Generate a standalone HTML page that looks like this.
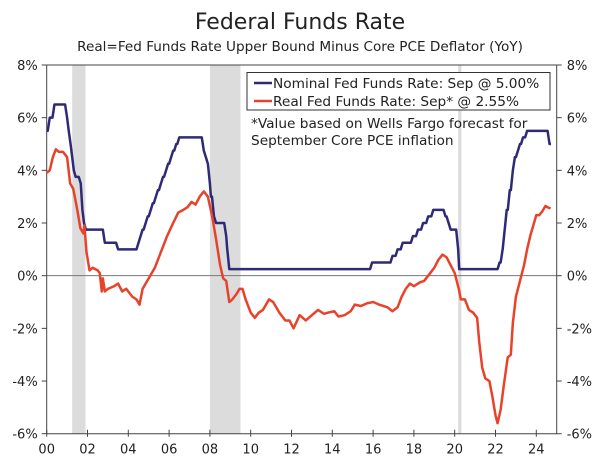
<!DOCTYPE html>
<html><head><meta charset="utf-8"><style>
body{margin:0;background:#fff;width:600px;height:461px;overflow:hidden}
svg text{font-family:"DejaVu Sans","Liberation Sans",sans-serif;fill:#222}
</style></head><body>
<svg id="chart" width="600" height="461" viewBox="0 0 600 461">
<text x="300" y="29" text-anchor="middle" font-size="22">Federal Funds Rate</text>
<text x="300" y="51" text-anchor="middle" font-size="13.6">Real=Fed Funds Rate Upper Bound Minus Core PCE Deflator (YoY)</text>
<g id="rec"></g><g id="axes"></g><g id="series"></g>
<g>
<rect x="247" y="72.5" width="303" height="37.5" fill="#fff" stroke="#333" stroke-width="1"/>
<line x1="254" y1="83" x2="272" y2="83" stroke="#2e2a78" stroke-width="2.5"/>
<text x="273" y="88" font-size="13.7">Nominal Fed Funds Rate: Sep @ 5.00%</text>
<line x1="254" y1="101" x2="272" y2="101" stroke="#e8432a" stroke-width="2.5"/>
<text x="273" y="106" font-size="13.7">Real Fed Funds Rate: Sep* @ 2.55%</text>
</g>
<text x="251" y="128" font-size="13.7">*Value based on Wells Fargo forecast for</text>
<text x="251" y="145" font-size="13.7">September Core PCE inflation</text>
</svg>
<script>
const yTicks=[8,6,4,2,0,-2,-4,-6];
const xTickYears=[2000,2002,2004,2006,2008,2010,2012,2014,2016,2018,2020,2022,2024];
const xTickLabels=["00","02","04","06","08","10","12","14","16","18","20","22","24"];
const recStart=[2001.25,2008.0,2020.17];
const recEnd=[2001.9,2009.5,2020.33];
const nomDates=[2000.0,2000.15,2000.38,2001.0,2001.08,2001.17,2001.25,2001.33,2001.42,2001.5,2001.67,2001.75,2001.83,2001.92,2002.85,2003.5,2004.5,2004.6,2004.7,2004.85,2004.95,2005.1,2005.2,2005.35,2005.45,2005.6,2005.7,2005.85,2005.95,2006.1,2006.2,2006.35,2006.5,2007.7,2007.8,2007.9,2008.0,2008.05,2008.2,2008.3,2008.8,2008.85,2008.95,2015.95,2016.95,2017.2,2017.45,2017.95,2018.2,2018.45,2018.7,2018.95,2019.55,2019.7,2019.8,2020.17,2020.22,2022.2,2022.35,2022.45,2022.55,2022.7,2022.85,2022.95,2023.1,2023.2,2023.35,2023.55,2024.65];
const nomValues=[5.5,6.0,6.5,6.0,5.5,5.0,4.5,4.0,3.75,3.75,3.5,2.5,2.0,1.75,1.25,1.0,1.25,1.5,1.75,2.0,2.25,2.5,2.75,3.0,3.25,3.5,3.75,4.0,4.25,4.5,4.75,5.0,5.25,4.75,4.5,4.25,3.5,3.0,2.25,2.0,1.5,1.0,0.25,0.5,0.75,1.0,1.25,1.5,1.75,2.0,2.25,2.5,2.25,2.0,1.75,1.0,0.25,0.5,1.0,1.75,2.5,3.25,4.0,4.5,4.75,5.0,5.25,5.5,5.0];
const realDates=[2000.0,2000.15,2000.3,2000.45,2000.6,2000.8,2001.0,2001.15,2001.3,2001.5,2001.65,2001.8,2001.85,2001.95,2002.1,2002.25,2002.5,2002.6,2002.7,2002.75,2002.85,2003.0,2003.3,2003.5,2003.7,2003.9,2004.2,2004.4,2004.55,2004.7,2005.0,2005.3,2005.6,2005.9,2006.2,2006.45,2006.7,2006.9,2007.1,2007.3,2007.5,2007.7,2007.9,2008.1,2008.3,2008.5,2008.65,2008.8,2008.95,2009.1,2009.3,2009.45,2009.6,2009.75,2010.0,2010.2,2010.4,2010.6,2010.9,2011.1,2011.4,2011.7,2011.9,2012.1,2012.4,2012.7,2013.0,2013.3,2013.6,2013.8,2014.1,2014.3,2014.6,2014.9,2015.1,2015.4,2015.7,2016.0,2016.3,2016.7,2016.95,2017.2,2017.4,2017.6,2017.8,2018.0,2018.3,2018.5,2018.8,2019.0,2019.2,2019.4,2019.6,2019.8,2020.0,2020.2,2020.3,2020.5,2020.7,2020.9,2021.1,2021.2,2021.35,2021.5,2021.7,2021.85,2022.0,2022.1,2022.25,2022.4,2022.6,2022.75,2022.85,2023.0,2023.2,2023.4,2023.55,2023.7,2023.85,2024.0,2024.15,2024.3,2024.45,2024.55,2024.7];
const realValues=[3.9,4.0,4.5,4.8,4.7,4.7,4.5,3.5,3.3,2.5,1.8,1.6,1.9,0.9,0.2,0.3,0.2,0.1,-0.6,-0.1,-0.6,-0.5,-0.4,-0.3,-0.6,-0.5,-0.8,-0.9,-1.1,-0.5,-0.1,0.3,0.9,1.5,2.0,2.4,2.5,2.6,2.8,2.7,3.0,3.2,3.0,2.3,1.4,0.4,-0.1,-0.2,-1.0,-0.9,-0.7,-0.5,-0.5,-0.9,-1.4,-1.6,-1.4,-1.3,-0.9,-1.0,-1.4,-1.7,-1.7,-2.0,-1.5,-1.7,-1.5,-1.3,-1.45,-1.4,-1.35,-1.55,-1.5,-1.35,-1.1,-1.15,-1.05,-1.0,-1.1,-1.2,-1.35,-1.2,-0.8,-0.5,-0.3,-0.4,-0.25,-0.2,0.1,0.3,0.6,0.8,0.7,0.4,0.1,-0.5,-0.9,-0.9,-1.3,-1.4,-1.6,-2.5,-3.5,-3.9,-4.0,-4.6,-5.3,-5.6,-5.1,-4.2,-3.1,-3.0,-1.8,-0.8,-0.2,0.4,1.0,1.5,1.9,2.3,2.3,2.45,2.65,2.6,2.55];

const NS="http://www.w3.org/2000/svg";
const L=46.7,R=556.7,T=65,B=433.7;
const xS=y=>L+(y-2000)/25*(R-L);
const yS=v=>T+(8-v)/14*(B-T);
function mk(tag,attrs,parent){const e=document.createElementNS(NS,tag);for(const k in attrs)e.setAttribute(k,attrs[k]);parent.appendChild(e);return e;}
const rec=document.getElementById('rec'),ax=document.getElementById('axes'),se=document.getElementById('series');
recStart.forEach((s,i)=>{const r=mk('rect',{x:xS(s),y:T,width:xS(recEnd[i])-xS(s),height:B-T,fill:'#dcdcdc'},rec);

});
const z=mk('line',{x1:L,x2:R,y1:yS(0),y2:yS(0),stroke:'#777','stroke-width':1},ax);


const frame=mk('path',{d:`M${L},${T}H${R}M${L},${T}V${B}H${R}V${T}`,stroke:'#444',fill:'none','stroke-width':1},ax);


yTicks.forEach(v=>{const y=yS(v);
mk('line',{x1:L-5,x2:L,y1:y,y2:y,stroke:'#444'},ax);mk('line',{x1:R,x2:R+5,y1:y,y2:y,stroke:'#444'},ax);
const t1=mk('text',{x:L-9,y:y+5,'text-anchor':'end','font-size':13},ax);t1.textContent=v+'%';


const t2=mk('text',{x:R+10,y:y+5,'font-size':13},ax);t2.textContent=v+'%';

});
xTickYears.forEach((yr,i)=>{const x=xS(yr);mk('line',{x1:x,x2:x,y1:B-4,y2:B+3,stroke:'#444'},ax);
const t=mk('text',{x:x,y:B+20,'text-anchor':'middle','font-size':13},ax);t.textContent=xTickLabels[i];

});
let d='';nomDates.forEach((dt,i)=>{const x=xS(dt),y=yS(nomValues[i]);
if(i===0)d+=`M${x},${y}`;else d+=`L${x},${y}`;
const nx=i<nomDates.length-1?xS(nomDates[i+1])-2:xS(2024.72);d+=`L${Math.max(nx,x)},${y}`;});
const pn=mk('path',{d:d,fill:'none',stroke:'#2e2a78','stroke-width':2.5,'stroke-linejoin':'round'},se);


const pr=mk('path',{d:realDates.map((dt,i)=>(i?'L':'M')+xS(dt)+','+yS(realValues[i])).join(''),fill:'none',stroke:'#e8432a','stroke-width':2.5,'stroke-linejoin':'round'},se);


</script>
</body></html>
